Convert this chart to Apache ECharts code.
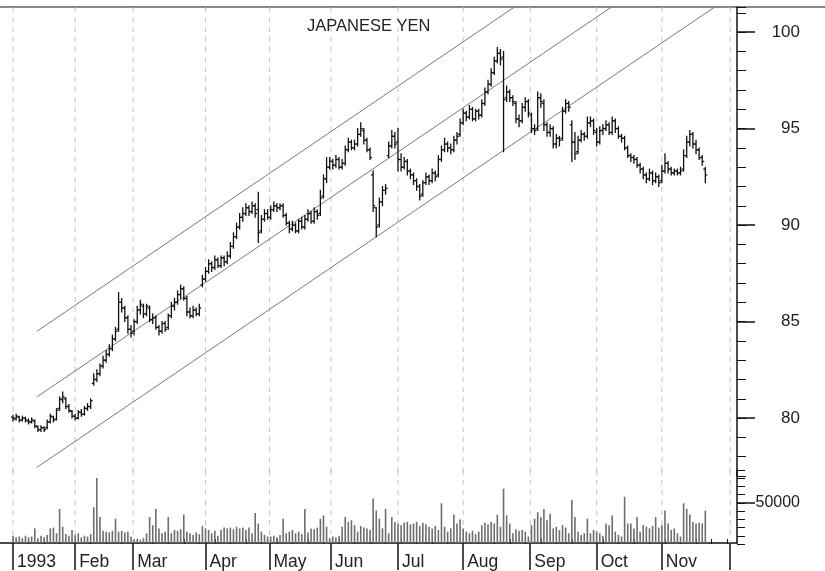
<!DOCTYPE html>
<html>
<head>
<meta charset="utf-8">
<script src="https://cdn.jsdelivr.net/npm/echarts@6/dist/echarts.min.js"></script>
<style>
  html, body { margin: 0; padding: 0; background: #fff; }
  #chart { width: 825px; height: 571px; }
</style>
</head>
<body>
<div id="chart"></div>
<script>
// daily bars, one row per trading day: [open, close, low, high]
var jan = [
  [80.05,80.0,79.85,80.15],[79.95,80.1,79.9,80.2],[80.05,79.9,79.8,80.1],[79.9,80.0,79.85,80.1],
  [80.0,79.9,79.8,80.05],[79.85,79.8,79.7,79.95],[79.8,79.9,79.75,80.0],[79.85,79.6,79.5,79.9],
  [79.55,79.4,79.3,79.6],[79.4,79.5,79.3,79.6],[79.5,79.4,79.3,79.55],[79.5,79.8,79.45,79.9],
  [79.8,80.1,79.75,80.2],[80.05,79.9,79.8,80.1],[79.95,80.4,79.9,80.5],[80.5,81.0,80.4,81.1],
  [80.95,81.1,80.8,81.35],[81.0,80.6,80.5,81.05],[80.6,80.4,80.3,80.7],[80.35,80.1,80.0,80.4]
];
var feb = [
  [80.1,80.0,79.9,80.2],[80.0,80.3,79.95,80.4],[80.3,80.2,80.1,80.45],[80.2,80.5,80.15,80.6],
  [80.5,80.6,80.4,80.75],[80.6,80.9,80.5,81.0],[81.8,82.0,81.7,82.3],[82.0,82.3,81.9,82.5],
  [82.3,82.7,82.2,82.8],[82.7,83.0,82.6,83.2],[83.0,83.3,82.9,83.5],[83.3,83.6,83.2,83.8],
  [83.6,84.1,83.5,84.3],[84.1,84.5,84.0,84.7],[84.6,86.0,84.5,86.5],[86.0,85.7,85.5,86.2],
  [85.7,85.2,85.0,85.8],[85.2,84.6,84.4,85.3],[84.6,84.4,84.2,84.8]
];
var mar = [
  [84.5,85.0,84.3,85.1],[85.0,85.6,84.9,85.8],[85.6,85.9,85.4,86.1],[85.8,85.4,85.2,85.9],
  [85.4,85.8,85.3,85.9],[85.7,85.1,85.0,85.8],[85.1,85.2,84.9,85.4],[85.2,84.7,84.6,85.3],
  [84.7,84.5,84.3,84.8],[84.5,84.9,84.4,85.0],[84.9,84.6,84.5,85.0],[84.7,85.3,84.6,85.4],
  [85.3,85.8,85.2,86.0],[85.8,86.0,85.6,86.2],[86.0,86.4,85.9,86.6],[86.4,86.7,86.2,86.9],
  [86.7,86.2,86.1,86.8],[86.2,85.5,85.3,86.3],[85.5,85.3,85.2,85.7],[85.3,85.6,85.2,85.8],
  [85.6,85.4,85.3,85.7],[85.4,85.7,85.3,85.9],[86.9,87.2,86.8,87.4]
];
var apr = [
  [87.2,87.6,87.1,87.8],[87.6,88.0,87.5,88.2],[88.0,87.8,87.6,88.1],[87.8,88.2,87.7,88.4],
  [88.2,87.9,87.8,88.3],[87.9,88.3,87.8,88.4],[88.3,88.1,87.9,88.4],[88.1,88.4,88.0,88.6],
  [88.4,88.9,88.3,89.1],[88.9,89.4,88.8,89.6],[89.4,89.9,89.3,90.1],[89.9,90.4,89.8,90.6],
  [90.4,90.6,90.2,90.9],[90.6,90.9,90.5,91.1],[90.9,90.7,90.5,91.0],[90.7,91.0,90.6,91.2],
  [91.0,90.6,90.4,91.1],[90.8,89.6,89.1,91.7],[89.7,90.3,89.6,90.5],[90.3,90.6,90.2,90.8],
  [90.6,90.4,90.3,90.8]
];
var may = [
  [90.4,90.8,90.3,91.0],[90.8,91.0,90.7,91.2],[91.0,90.9,90.7,91.1],[90.9,91.0,90.8,91.1],
  [91.0,90.5,90.4,91.1],[90.5,90.1,90.0,90.6],[90.1,89.8,89.6,90.2],[89.8,90.0,89.7,90.2],
  [90.0,89.7,89.6,90.1],[89.7,90.2,89.6,90.3],[90.2,89.9,89.8,90.4],[89.9,90.3,89.8,90.5],
  [90.3,90.6,90.2,90.8],[90.6,90.2,90.1,90.7],[90.2,90.7,90.1,90.9],[90.7,90.5,90.3,90.8],
  [90.6,91.4,90.5,91.8],[91.5,92.4,91.4,92.6],[92.4,93.0,92.2,93.5],[93.0,93.3,92.9,93.5]
];
var jun = [
  [93.3,93.1,92.9,93.4],[93.1,93.4,93.0,93.6],[93.4,93.0,92.9,93.5],[93.0,93.2,92.9,93.4],
  [93.2,93.9,93.1,94.1],[93.9,94.3,93.8,94.5],[94.3,94.0,93.9,94.4],[94.0,94.2,93.9,94.4],
  [94.2,94.7,94.1,95.0],[94.7,95.0,94.6,95.3],[94.9,94.4,94.2,95.0],[94.4,93.9,93.8,94.5],
  [93.9,93.5,93.4,94.0],[92.6,91.0,90.7,92.8],[90.9,89.9,89.4,90.9],[90.0,91.2,89.9,91.4],
  [91.2,91.8,91.0,92.0],[91.8,91.9,91.6,92.1],[93.6,94.1,93.5,94.3],[94.1,94.6,94.0,94.9],
  [94.6,94.2,94.0,94.8],[94.3,93.4,92.8,95.0]
];
var jul = [
  [93.4,93.0,92.8,93.7],[93.0,93.3,92.9,93.5],[93.3,92.8,92.6,93.4],[92.8,92.6,92.4,92.9],
  [92.6,92.3,92.1,92.7],[92.3,92.0,91.8,92.4],[92.0,91.5,91.3,92.1],[91.6,92.2,91.5,92.3],
  [92.2,92.5,92.1,92.7],[92.5,92.3,92.1,92.6],[92.3,92.7,92.2,92.9],[92.7,92.5,92.3,92.8],
  [92.6,93.4,92.5,93.6],[93.4,93.9,93.3,94.1],[93.9,94.2,93.8,94.5],[94.2,94.0,93.8,94.3],
  [94.0,93.9,93.7,94.2],[93.9,94.4,93.8,94.6],[94.4,94.6,94.2,94.8],[94.7,95.3,94.6,95.5],
  [95.3,95.8,95.2,96.0]
];
var aug = [
  [95.8,95.6,95.4,95.9],[95.6,96.0,95.5,96.2],[96.0,95.5,95.4,96.1],[95.5,95.9,95.4,96.0],
  [95.9,95.7,95.5,96.0],[95.7,96.3,95.6,96.5],[96.3,96.9,96.2,97.1],[96.9,97.3,96.8,97.5],
  [97.3,97.9,97.2,98.1],[97.9,98.5,97.8,98.7],[98.5,98.9,98.4,99.2],[98.9,98.6,98.3,99.1],
  [98.7,96.5,93.8,99.0],[96.6,96.9,96.4,97.2],[96.9,96.6,96.4,97.0],[96.6,96.4,96.2,96.7],
  [96.3,95.5,95.3,96.4],[95.5,95.4,95.1,95.7],[95.4,96.1,95.3,96.3],[96.1,96.4,95.9,96.6],
  [96.4,95.8,95.6,96.5]
];
var sep = [
  [95.7,95.0,94.8,95.8],[95.0,94.9,94.7,95.2],[95.0,96.6,94.9,96.9],[96.6,96.4,96.1,96.8],
  [96.3,95.2,94.9,96.5],[95.2,94.8,94.6,95.3],[94.8,95.0,94.6,95.2],[95.0,94.2,94.0,95.1],
  [94.2,94.5,94.0,94.7],[94.5,94.4,94.1,94.6],[94.5,95.9,94.4,96.1],[95.9,96.3,95.8,96.5],
  [96.3,96.1,95.9,96.4],[95.2,94.3,93.3,95.4],[94.3,93.7,93.4,94.8],[93.8,94.4,93.7,94.6],
  [94.4,94.7,94.3,94.9],[94.7,94.6,94.4,94.8],[94.6,95.3,94.5,95.6],[95.3,95.4,95.1,95.6],
  [95.4,94.9,94.7,95.5]
];
var oct = [
  [94.8,94.3,94.1,95.0],[94.3,94.9,94.2,95.1],[94.9,95.0,94.7,95.2],[95.0,95.2,94.9,95.4],
  [95.2,94.8,94.7,95.3],[94.8,95.4,94.7,95.6],[95.4,95.0,94.8,95.5],[95.0,94.6,94.5,95.1],
  [94.6,94.5,94.3,94.7],[94.5,94.0,93.9,94.6],[94.0,93.6,93.5,94.1],[93.6,93.5,93.3,93.7],
  [93.5,93.4,93.2,93.6],[93.4,93.1,93.0,93.5],[93.1,92.9,92.7,93.2],[92.9,92.6,92.4,93.0],
  [92.6,92.4,92.2,92.7],[92.4,92.7,92.3,92.9],[92.7,92.3,92.1,92.8],[92.3,92.5,92.2,92.7],
  [92.5,92.2,92.0,92.6]
];
var nov = [
  [92.3,92.8,92.2,93.1],[92.8,93.2,92.7,93.7],[93.2,92.9,92.7,93.3],[92.9,92.7,92.6,93.0],
  [92.7,92.8,92.6,92.9],[92.8,92.7,92.6,92.9],[92.7,92.8,92.6,93.0],[92.9,93.6,92.8,93.9],
  [93.6,94.3,93.5,94.6],[94.3,94.7,94.1,94.9],[94.7,94.2,94.0,94.8],[94.2,93.9,93.7,94.4],
  [93.9,93.5,93.4,94.0],[93.5,93.3,93.1,93.6],[92.9,92.6,92.2,93.0]
];

// volume, same days as above
var volJan = [9000,7000,8000,6000,9000,7000,8000,18000,6000,9000,7000,10000,18000,19000,12000,42000,20000,11000,9000,16000];
var volFeb = [10000,12000,7000,9000,8000,11000,44000,80000,32000,15000,14000,13000,15000,30000,14000,15000,13000,14000,8000];
var volMar = [5000,4000,4000,6000,12000,32000,22000,42000,18000,12000,14000,32000,12000,16000,15000,17000,35000,14000,12000,10000,13000,11000,21000];
var volApr = [18000,16000,12000,15000,9000,16000,19000,18000,19000,17000,20000,18000,19000,16000,19000,12000,37000,24000,14000,10000,8000];
var volMay = [8000,9000,7000,10000,30000,12000,14000,16000,12000,14000,11000,42000,13000,18000,17000,19000,30000,34000,20000,6000];
var volJun = [8000,7000,9000,20000,32000,26000,28000,22000,14000,21000,19000,18000,16000,55000,40000,30000,18000,42000,12000,32000,26000,24000];
var volJul = [22000,25000,26000,23000,24000,26000,21000,25000,23000,20000,18000,21000,16000,49000,20000,14000,18000,35000,24000,29000,18000];
var volAug = [14000,12000,15000,11000,14000,22000,25000,23000,26000,24000,35000,20000,67000,34000,24000,12000,17000,15000,16000,14000,8000];
var volSep = [22000,30000,38000,32000,42000,28000,36000,18000,20000,16000,22000,19000,12000,53000,32000,14000,10000,12000,30000,12000,16000];
var volOct = [14000,12000,9000,24000,22000,34000,14000,10000,8000,57000,24000,24000,18000,32000,14000,22000,20000,18000,21000,32000,19000];
var volNov = [22000,40000,24000,16000,18000,12000,8000,49000,42000,35000,26000,24000,25000,24000,40000];

// month boundaries on the trading-day scale, and their labels
var monthPos = [0, 20, 38.7, 62, 82.6, 102.4, 124, 145, 166.6, 188, 209, 231];
var monthLabels = ['1993', 'Feb', 'Mar', 'Apr', 'May', 'Jun', 'Jul', 'Aug', 'Sep', 'Oct', 'Nov', ''];

// trend channel: [day, price] at both ends
var channelUpper = [[7.7, 84.5], [161.5, 101.3]];
var channelMiddle = [[7.7, 81.1], [192.8, 101.3]];
var channelLower = [[7.7, 77.45], [226.0, 101.3]];

var priceLabels = [80, 85, 90, 95, 100];
var volumeLabels = [50000];

var X_MIN = -4.2, X_MAX = 233.2;
var P_MIN = 77, P_MAX = 101.3;
var V_MAX = 90000;

var bars = [].concat(jan, feb, mar, apr, may, jun, jul, aug, sep, oct, nov);
var volume = [].concat(volJan, volFeb, volMar, volApr, volMay, volJun, volJul, volAug, volSep, volOct, volNov);
var barData = bars.map(function (r, i) { return [i, r[0], r[1], r[2], r[3]]; });
var volData = volume.map(function (v, i) { return [i, v]; });
var weekTicks = [];
for (var w = 0; w <= 230; w += 5) { weekTicks.push(w); }

var font = 'Liberation Sans, Arial, sans-serif';
var ink = '#111';
var chart = echarts.init(document.getElementById('chart'));

function renderBar(params, api) {
  var x = api.value(0);
  var o = api.coord([x, api.value(1)]);
  var c = api.coord([x, api.value(2)]);
  var lo = api.coord([x, api.value(3)]);
  var hi = api.coord([x, api.value(4)]);
  var st = { stroke: ink, lineWidth: 1.3 };
  return {
    type: 'group',
    children: [
      { type: 'line', shape: { x1: lo[0], y1: lo[1] + 0.5, x2: hi[0], y2: hi[1] - 0.5 }, style: st },
      { type: 'line', shape: { x1: o[0] - 2, y1: o[1], x2: o[0], y2: o[1] }, style: st },
      { type: 'line', shape: { x1: c[0], y1: c[1], x2: c[0] + 2, y2: c[1] }, style: st }
    ]
  };
}

function renderVolume(params, api) {
  var x = api.value(0);
  var top = api.coord([x, api.value(1)]);
  var base = api.coord([x, 0]);
  return {
    type: 'line',
    shape: { x1: top[0], y1: top[1], x2: base[0], y2: base[1] },
    style: { stroke: '#6e6e6e', lineWidth: 1.6 }
  };
}

function renderGrid(params, api) {
  var p = api.coord([api.value(0), 0]);
  var cs = params.coordSys;
  return {
    type: 'line',
    shape: { x1: p[0], y1: cs.y, x2: p[0], y2: cs.y + cs.height },
    style: { stroke: '#c4c4c4', lineWidth: 1, lineDash: [5, 5] },
    silent: true
  };
}

function channel(data) {
  return {
    type: 'line', xAxisIndex: 0, yAxisIndex: 0, data: data,
    symbol: 'none', silent: true,
    lineStyle: { color: '#7a7a7a', width: 1 }
  };
}

// hidden x axis for a grid that only carries y ticks
function plainX(g) {
  return { gridIndex: g, type: 'value', min: X_MIN, max: X_MAX, show: false };
}

var monthGrid = monthPos.map(function (p) { return [p]; });
var priceBox = { left: 0, right: 88, top: 7, height: 469 };
var volumeBox = { left: 0, right: 88, top: 470, height: 74 };

chart.setOption({
  animation: false,
  backgroundColor: '#fff',
  title: {
    text: 'JAPANESE YEN', left: 302, top: 13,
    textStyle: { fontFamily: font, fontSize: 16.5, fontWeight: 'normal', color: '#222' }
  },
  // grids 2 and 3 sit on top of 0 and 1 and only hold the minor ticks
  grid: [priceBox, volumeBox, priceBox, volumeBox],
  xAxis: [
    plainX(0),
    {
      gridIndex: 1, type: 'value', min: X_MIN, max: X_MAX,
      axisLine: { onZero: false, lineStyle: { color: ink, width: 1.5 } },
      axisTick: { customValues: monthPos, length: 27, lineStyle: { color: ink, width: 1.5 } },
      axisLabel: {
        customValues: monthPos, align: 'left', margin: 10, padding: [0, 0, 0, 4],
        fontFamily: font, fontSize: 17.5, color: '#222',
        formatter: function (v) { var k = monthPos.indexOf(v); return k < 0 ? '' : monthLabels[k]; }
      },
      splitLine: { show: false }
    },
    plainX(2),
    {
      gridIndex: 3, type: 'value', min: X_MIN, max: X_MAX,
      axisLine: { show: false, onZero: false },
      axisTick: { show: true, customValues: weekTicks, inside: true, length: 5, lineStyle: { color: ink } },
      axisLabel: { show: false },
      splitLine: { show: false }
    }
  ],
  yAxis: [
    {
      gridIndex: 0, type: 'value', position: 'right', min: P_MIN, max: P_MAX,
      axisLine: { show: true, onZero: false, lineStyle: { color: ink, width: 1.5 } },
      axisTick: { show: true, customValues: priceLabels, length: 18, lineStyle: { color: ink, width: 1.5 } },
      axisLabel: { customValues: priceLabels, align: 'right', margin: 63, fontFamily: font, fontSize: 17, color: '#222' },
      splitLine: { show: false }
    },
    {
      gridIndex: 1, type: 'value', position: 'right', min: 0, max: V_MAX,
      axisLine: { show: true, onZero: false, lineStyle: { color: ink, width: 1.5 } },
      axisTick: { show: true, customValues: volumeLabels, length: 18, lineStyle: { color: ink, width: 1.5 } },
      axisLabel: {
        customValues: volumeLabels, align: 'right', margin: 63, fontFamily: font, fontSize: 16, color: '#222',
        formatter: function (v) { return String(v); }
      },
      splitLine: { show: false }
    },
    {
      gridIndex: 2, type: 'value', position: 'right', min: P_MIN, max: P_MAX, interval: 1,
      axisLine: { show: false, onZero: false },
      axisTick: { show: true, length: 9, lineStyle: { color: ink } },
      axisLabel: { show: false },
      splitLine: { show: false }
    },
    {
      gridIndex: 3, type: 'value', position: 'right', min: 0, max: V_MAX, interval: 10000,
      axisLine: { show: false, onZero: false },
      axisTick: { show: true, length: 8, lineStyle: { color: ink } },
      axisLabel: { show: false },
      splitLine: { show: false }
    }
  ],
  graphic: [
    { type: 'line', shape: { x1: 0, y1: 7, x2: 825, y2: 7 }, style: { stroke: ink, lineWidth: 1.2 }, silent: true }
  ],
  series: [
    { type: 'custom', xAxisIndex: 0, yAxisIndex: 0, data: monthGrid, renderItem: renderGrid, silent: true, z: 1 },
    { type: 'custom', xAxisIndex: 1, yAxisIndex: 1, data: monthGrid, renderItem: renderGrid, silent: true, z: 1 },
    channel(channelUpper),
    channel(channelMiddle),
    channel(channelLower),
    {
      type: 'custom', xAxisIndex: 0, yAxisIndex: 0, data: barData,
      encode: { x: 0, y: [1, 2, 3, 4] }, renderItem: renderBar, z: 5
    },
    {
      type: 'custom', xAxisIndex: 1, yAxisIndex: 1, data: volData,
      encode: { x: 0, y: 1 }, renderItem: renderVolume, z: 5
    }
  ]
});
</script>
</body>
</html>
